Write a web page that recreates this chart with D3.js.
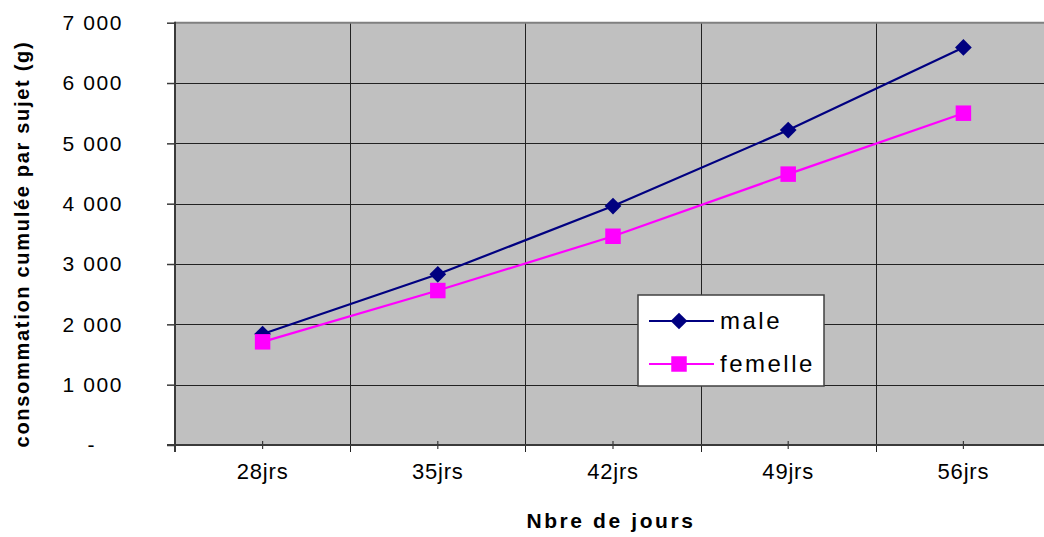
<!DOCTYPE html>
<html>
<head>
<meta charset="utf-8">
<script src="https://cdn.jsdelivr.net/npm/d3@7"></script>
<style>
  body { margin: 0; background: #fff; }
  svg { display: block; font-family: Arial, "Liberation Sans", sans-serif; }
</style>
</head>
<body>
<svg id="chart"></svg>
<script>
var categories = ['28jrs', '35jrs', '42jrs', '49jrs', '56jrs'];
var maleValues = [1840, 2830, 3960, 5220, 6590];
var femelleValues = [1710, 2560, 3460, 4490, 5500];
var yTicks = [0, 1000, 2000, 3000, 4000, 5000, 6000, 7000];
var seriesNames = ['male', 'femelle'];

var config = {
  svgWidth: 1044,
  svgHeight: 537,
  plotLeft: 175,
  plotTop: 22.7,
  plotBottom: 445,
  bandWidth: 175.2,
  yMax: 7000,
  maleColor: '#000080',
  femelleColor: '#ff00ff',
  plotFill: '#c0c0c0',
  gridColor: '#222',
  axisColor: '#3a3a3a',
  tickFontSize: 21,
};

var svg = d3.select('#chart')
  .attr('width', config.svgWidth)
  .attr('height', config.svgHeight);

var plotRight = config.plotLeft + config.bandWidth * categories.length;

var x = d3.scaleBand()
  .domain(categories)
  .range([config.plotLeft, plotRight]);

var y = d3.scaleLinear()
  .domain([0, config.yMax])
  .range([config.plotBottom, config.plotTop]);

// plot background
svg.append('rect')
  .attr('x', config.plotLeft)
  .attr('y', config.plotTop)
  .attr('width', plotRight - config.plotLeft)
  .attr('height', config.plotBottom - config.plotTop)
  .attr('fill', config.plotFill);

// horizontal gridlines
svg.append('g')
  .selectAll('line')
  .data(yTicks.filter(function(d) { return d > 0 && d < config.yMax; }))
  .join('line')
  .attr('x1', config.plotLeft)
  .attr('x2', plotRight)
  .attr('y1', function(d) { return Math.round(y(d)) + 0.5; })
  .attr('y2', function(d) { return Math.round(y(d)) + 0.5; })
  .attr('stroke', config.gridColor)
  .attr('stroke-width', 1);

// vertical gridlines at category boundaries
svg.append('g')
  .selectAll('line')
  .data(categories.slice(1))
  .join('line')
  .attr('x1', function(d) { return Math.round(x(d)) + 0.5; })
  .attr('x2', function(d) { return Math.round(x(d)) + 0.5; })
  .attr('y1', config.plotTop)
  .attr('y2', config.plotBottom + 7)
  .attr('stroke', config.gridColor)
  .attr('stroke-width', 1);

// top border
svg.append('line')
  .attr('x1', config.plotLeft)
  .attr('x2', plotRight)
  .attr('y1', config.plotTop)
  .attr('y2', config.plotTop)
  .attr('stroke', '#808080')
  .attr('stroke-width', 2);

// y axis
var yAxis = svg.append('g')
  .attr('transform', 'translate(' + config.plotLeft + ',0)')
  .call(d3.axisLeft(y).tickValues(yTicks).tickSize(8).tickPadding(0)
    .tickFormat(function(d) { return d === 0 ? '-' : d3.format(',')(d).replace(',', ' '); }));
yAxis.select('.domain').remove();
yAxis.selectAll('.tick line').attr('stroke', config.axisColor).attr('stroke-width', 1.5);
yAxis.selectAll('.tick text')
  .attr('x', -52)
  .attr('dx', function(d) { return d === 0 ? -27 : 0; })
  .attr('font-size', config.tickFontSize)
  .attr('letter-spacing', 1.6)
  .attr('fill', '#000');

svg.append('line')
  .attr('x1', config.plotLeft)
  .attr('x2', config.plotLeft)
  .attr('y1', config.plotTop - 1)
  .attr('y2', config.plotBottom + 7)
  .attr('stroke', config.axisColor)
  .attr('stroke-width', 2);

// x axis
var xAxis = svg.append('g')
  .attr('transform', 'translate(0,' + config.plotBottom + ')')
  .call(d3.axisBottom(x).tickSize(4).tickPadding(14));
xAxis.select('.domain').remove();
xAxis.selectAll('.tick line')
  .attr('y1', -4)
  .attr('stroke', config.axisColor)
  .attr('stroke-width', 1.2);
xAxis.selectAll('.tick text')
  .attr('font-size', 22)
  .attr('letter-spacing', 0.8)
  .attr('fill', '#000');

svg.append('line')
  .attr('x1', config.plotLeft - 8)
  .attr('x2', plotRight)
  .attr('y1', config.plotBottom)
  .attr('y2', config.plotBottom)
  .attr('stroke', config.axisColor)
  .attr('stroke-width', 2);

// axis titles
svg.append('text')
  .attr('x', 611)
  .attr('y', 528)
  .attr('text-anchor', 'middle')
  .attr('font-size', 21)
  .attr('font-weight', 'bold')
  .attr('letter-spacing', 2.6)
  .text('Nbre de jours');

svg.append('text')
  .attr('transform', 'translate(29,244) rotate(-90)')
  .attr('text-anchor', 'middle')
  .attr('font-size', 20)
  .attr('font-weight', 'bold')
  .attr('letter-spacing', 1.7)
  .text('consommation cumulée par sujet (g)');

// series
var line = d3.line()
  .x(function(d, i) { return x(categories[i]) + x.bandwidth() / 2; })
  .y(function(d) { return y(d); });

var series = [
  { name: seriesNames[0], values: maleValues, color: config.maleColor, diamond: true, size: 140 },
  { name: seriesNames[1], values: femelleValues, color: config.femelleColor, diamond: false, size: 240 },
];

function markerTransform(s, px, py) {
  return 'translate(' + px + ',' + py + ')' + (s.diamond ? ' rotate(45)' : '');
}

series.forEach(function(s) {
  svg.append('path')
    .attr('d', line(s.values))
    .attr('fill', 'none')
    .attr('stroke', s.color)
    .attr('stroke-width', 2.2);
});
series.forEach(function(s) {
  svg.append('g')
    .selectAll('path')
    .data(s.values)
    .join('path')
    .attr('transform', function(d, i) {
      return markerTransform(s, x(categories[i]) + x.bandwidth() / 2, y(d));
    })
    .attr('d', d3.symbol().type(d3.symbolSquare).size(s.size))
    .attr('fill', s.color);
});

// legend
var legend = svg.append('g').attr('transform', 'translate(638,295)');
legend.append('rect')
  .attr('width', 186)
  .attr('height', 91)
  .attr('fill', '#fff')
  .attr('stroke', '#404040')
  .attr('stroke-width', 1.5);

series.forEach(function(s, i) {
  var ly = 26 + i * 43;
  legend.append('line')
    .attr('x1', 11)
    .attr('x2', 76)
    .attr('y1', ly)
    .attr('y2', ly)
    .attr('stroke', s.color)
    .attr('stroke-width', 2.2);
  legend.append('path')
    .attr('transform', markerTransform(s, 41, ly))
    .attr('d', d3.symbol().type(d3.symbolSquare).size(s.size))
    .attr('fill', s.color);
  legend.append('text')
    .attr('x', 82)
    .attr('y', ly)
    .attr('dy', '0.35em')
    .attr('font-size', 24)
    .attr('letter-spacing', 2.5)
    .attr('fill', '#000')
    .text(s.name);
});
</script>
</body>
</html>
